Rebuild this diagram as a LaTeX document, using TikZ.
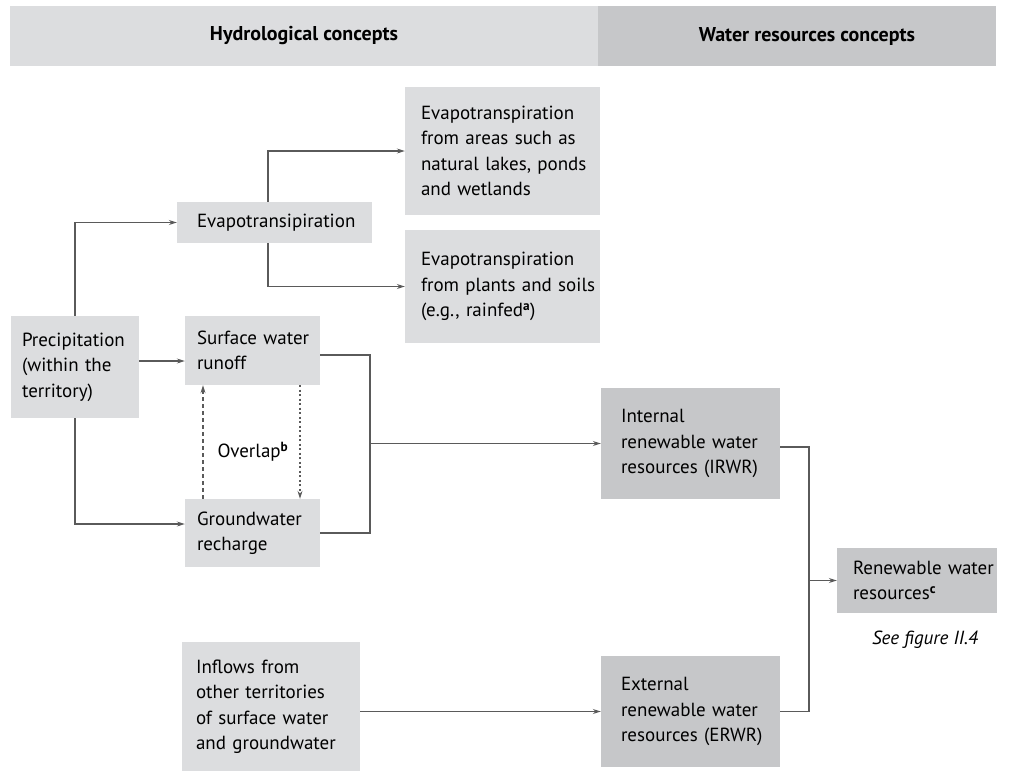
\documentclass[tikz,border=0pt]{standalone}
\usepackage{fontspec}
\setmainfont{PT Sans}
\usepackage{tikz}
\usetikzlibrary{arrows.meta}
\definecolor{lightbox}{HTML}{DCDDDF}
\definecolor{darkbox}{HTML}{C6C7C9}
\definecolor{linegrey}{HTML}{5A5A5A}

\begin{document}
\begin{tikzpicture}[x=1pt,y=-1pt,
	box/.style={fill=lightbox, inner ysep=0pt, font=\fontsize{19}{25.5}\selectfont,
		execute at begin node={\rightskip=-40pt plus 1fil\relax\hyphenpenalty=10000\parindent=0pt}},
	wbox/.style={box, fill=darkbox},
	head/.style={font=\bfseries\fontsize{20}{22}\selectfont},
	conn/.style={draw=linegrey, line width=1.1pt},
	arr/.style={conn, -{Stealth[length=8pt,width=5pt]}},
	overlap/.style={arr, dash pattern=on 4pt off 3pt},
	overlapdot/.style={arr, dash pattern=on 2pt off 2.5pt}]
	\useasboundingbox (0,0) rectangle (1009,771);
	\fill[lightbox] (10,6) rectangle (598,66);
	\fill[darkbox] (598,6) rectangle (996,66);
	\node[head] (hydro) at (304,36) {Hydrological concepts};
	\node[head] (wres) at (807,36) {Water resources concepts};

	\node[box, text width=106pt, inner xsep=11pt, minimum height=102pt] (prec) at (75,367) {Precipitation\\(within the\\territory)};
	\node[box, text width=163pt, inner xsep=16pt, minimum height=41pt] (evap) at (274.5,222.5) {\hspace*{4pt}Evapotransipiration};
	\node[box, text width=163pt, inner xsep=16pt, minimum height=128pt] (evtop) at (502.5,151) {Evapotranspiration\\from areas such as\\natural lakes, ponds\\and wetlands};
	\node[box, text width=163pt, inner xsep=16pt, minimum height=113pt] (evbot) at (502.5,286.5) {Evapotranspiration\\from plants and soils\\(e.g., rainfed\textsuperscript{\bfseries a})};
	\node[box, text width=111pt, inner xsep=12pt, minimum height=69pt] (surf) at (252.5,350.5) {Surface water\\runoff};
	\node[box, text width=111pt, inner xsep=12pt, minimum height=68pt] (gw) at (252.5,533) {Groundwater\\recharge};
	\node[box, text width=150pt, inner xsep=14pt, minimum height=129pt] (inflow) at (271,706.5) {Inflows from\\other territories\\of surface water\\and groundwater};
	\node[wbox, text width=139pt, inner xsep=20pt, minimum height=111pt] (irwr) at (690.5,443.5) {Internal\\renewable water\\resources (IRWR)};
	\node[wbox, text width=139pt, inner xsep=20pt, minimum height=111pt] (erwr) at (690.5,711.5) {External\\renewable water\\resources (ERWR)};
	\node[wbox, text width=128pt, inner xsep=16pt, minimum height=65pt] (rwr) at (917,580.5) {Renewable water\\resources\textsuperscript{\bfseries c}};
	\node[font=\fontsize{19}{22}\selectfont\itshape] (seefig) at (925,640) {See figure II.4};
	\node[font=\fontsize{19}{22}\selectfont] (olap) at (253,452) {Overlap\textsuperscript{\bfseries b}};

	\coordinate (runjoin) at (370,443.5);
	\coordinate (resjoin) at (809,580.5);

	\draw[arr] (prec.north) |- (evap.west);
	\draw[arr] ([yshift=6pt]prec.east) -- ([yshift=6pt]prec.east -| surf.west);
	\draw[arr] (prec.south) |- ([yshift=9pt]gw.west);
	\draw[arr] ([xshift=-6.5pt]evap.north) |- (evtop.west);
	\draw[arr] ([xshift=-6.5pt]evap.south) |- (evbot.west);
	\draw[overlap] ([xshift=-49.5pt]gw.north) -- ([xshift=-49.5pt]surf.south);
	\draw[overlapdot] ([xshift=47.5pt]surf.south) -- ([xshift=47.5pt]gw.north);
	\draw[conn] ([yshift=-4.5pt]surf.east) -| (runjoin) |- (gw.east);
	\draw[arr] (runjoin) -- (irwr.west);
	\draw[arr] (inflow.east |- erwr.west) -- (erwr.west);
	\draw[conn] ([yshift=-3.5pt]irwr.east) -| (resjoin) |- (erwr.east);
	\draw[arr] (resjoin) -- (rwr.west);
\end{tikzpicture}
\end{document}
